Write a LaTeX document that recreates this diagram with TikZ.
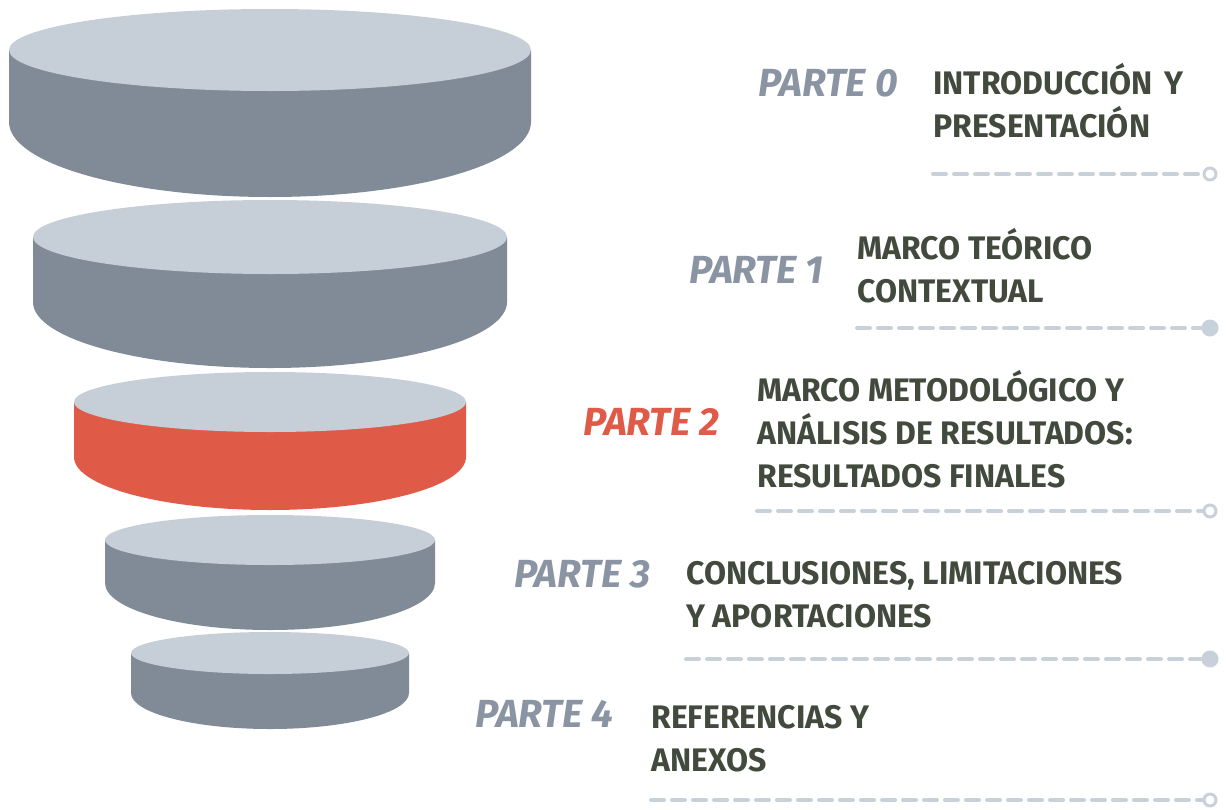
\documentclass[tikz,border=0pt]{standalone}
\usepackage{fontspec}
\setmainfont{Fira Sans}
\newfontfamily\titlefont[FakeStretch=0.98]{Fira Sans}
\newfontfamily\partfont{Fira Sans}
\usetikzlibrary{positioning}

\definecolor{disktop}{HTML}{C6CFD8}
\definecolor{diskside}{HTML}{818B97}
\definecolor{diskred}{HTML}{E05A48}
\definecolor{titletext}{HTML}{414A3D}
\definecolor{partgray}{HTML}{8A94A3}
\definecolor{dashgray}{HTML}{C8D1DA}

\tikzset{
  parttag/.style={anchor=base east, inner sep=0pt, text=partgray,
    font=\partfont\fontsize{19.6}{22}\selectfont\bfseries\itshape},
  titletag/.style={anchor=base west, inner sep=0pt, align=left, text=titletext,
    font=\titlefont\fontsize{16.3}{21.5}\selectfont\bfseries},
  dashline/.style={draw=dashgray, line width=2pt, line cap=round, dash pattern=on 6.5pt off 4pt},
  endopen/.style={circle, draw=dashgray, line width=1.5pt, fill=white, minimum size=6pt, inner sep=0pt},
  endfull/.style={circle, fill=dashgray, minimum size=8.5pt, inner sep=0pt}
}

\begin{document}
\begin{tikzpicture}[x=0.5pt, y=-0.5pt]
\useasboundingbox (0,0) rectangle (1226,809);

% disks of the funnel
\foreach \rx/\yt/\rt/\yb/\rb/\col in {261/50/41/122/75/diskside, 237/237/37/302/66/diskside,
    196/402/30/457/53/diskred, 165/540/25/583/47/diskside, 139/653/21/693/36/diskside}{
  \fill[\col] (270-\rx,\yt) -- (270-\rx,\yb) arc[start angle=180, end angle=0, x radius=\rx, y radius=\rb]
    -- (270+\rx,\yt) -- cycle;
  \fill[disktop] (270,\yt) ellipse[x radius=\rx, y radius=\rt];
}

% parts (titles sit on the baseline of their last line)
\node[parttag] (p0) at (898,96) {PARTE 0};
\node[titletag] (t0) at (933,137) {INTRODUCCIÓN\hspace{0.12em} Y\\PRESENTACIÓN};

\node[parttag] (p1) at (824,283) {PARTE 1};
\node[titletag] (t1) at (857,302) {MARCO TEÓRICO\\CONTEXTUAL};

\node[parttag, text=diskred] (p2) at (720,435) {PARTE 2};
\node[titletag] (t2) at (757,487) {MARCO METODOLÓGICO Y\\ANÁLISIS DE RESULTADOS:\\RESULTADOS FINALES};

\node[parttag] (p3) at (651,587) {PARTE 3};
\node[titletag] (t3) at (686,627) {CONCLUSIONES, LIMITACIONES\\Y APORTACIONES};

\node[parttag] (p4) at (614,727) {PARTE 4};
\node[titletag] (t4) at (651,771) {REFERENCIAS Y\\ANEXOS};

% dashed rules
\coordinate (s0) at (933,174);
\node[endopen] (c0) at (1210,174) {};
\draw[dashline] (s0) -- (c0);

\coordinate (s1) at (857,328);
\node[endfull] (c1) at (1210,328) {};
\draw[dashline] (s1) -- (c1);

\coordinate (s2) at (757,511);
\node[endopen] (c2) at (1210,511) {};
\draw[dashline] (s2) -- (c2);

\coordinate (s3) at (686,659);
\node[endfull] (c3) at (1210,659) {};
\draw[dashline] (s3) -- (c3);

\coordinate (s4) at (651,800);
\node[endopen] (c4) at (1210,800) {};
\draw[dashline] (s4) -- (c4);

\end{tikzpicture}
\end{document}
